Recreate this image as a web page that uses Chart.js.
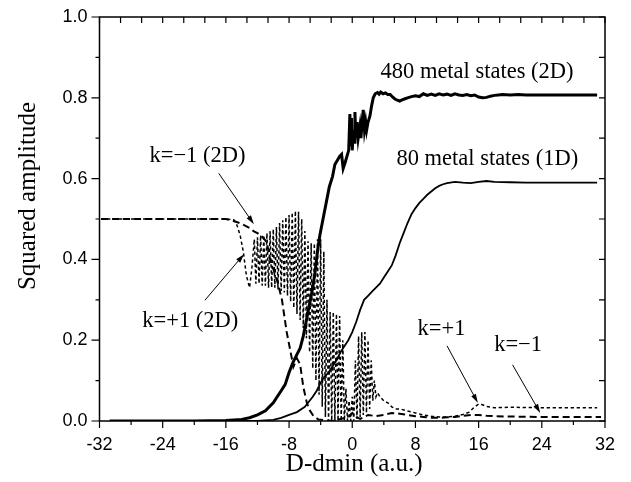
<!DOCTYPE html>
<html><head><meta charset="utf-8">
<script src="https://cdn.jsdelivr.net/npm/chart.js@4.4.1/dist/chart.umd.min.js"></script>
<style>html,body{margin:0;padding:0;background:#fff}#wrap{width:631px;height:482px}</style>
</head><body><div id="wrap"><canvas id="c" width="631" height="482"></canvas></div>
<script>
// ---- data ----
const xTickValues = [-32,-24,-16,-8,0,8,16,24,32];
const yTickValues = [0,0.2,0.4,0.6,0.8,1.0];

// 480 metal states (2D) – thick solid
const s2dX = [-30.7,-24,-20,-16,-14,-13,-12,-11,-10,-9.5,-9,-8.5,-8,-7.5,-7,-6.6,-6.2,-5.8,-5.4,-5,-4.7,-4.4,-4.1,-3.7,-3.3,-2.9,-2.5,-2.2,-1.9,-1.6,-1.35,-1.15,-0.9,-0.6,-0.45,-0.3,-0.2,-0.1,0.0,0.13,0.25,0.34,0.45,0.6,0.75,0.97,1.1,1.25,1.39,1.55,1.7,1.82,2.0,2.24,2.45,2.66,2.9,3.2,3.4,3.6,3.9,4.2,4.5,4.8,5.1,5.4,5.7,6.0,6.3,6.6,7.0,7.5,8.0,8.5,9.0,9.5,10,10.5,11,11.5,12,12.5,13,13.5,14,14.5,15,15.5,16,16.5,17,17.5,18,18.5,19,20,21,22,23,24,26,28,30,31];
const s2dY = [0,0,0,0.001,0.004,0.008,0.015,0.025,0.045,0.06,0.075,0.09,0.12,0.145,0.165,0.18,0.21,0.25,0.29,0.33,0.37,0.42,0.46,0.50,0.54,0.58,0.605,0.635,0.645,0.655,0.66,0.625,0.64,0.66,0.67,0.76,0.68,0.75,0.67,0.72,0.69,0.765,0.70,0.74,0.70,0.73,0.70,0.74,0.77,0.72,0.74,0.72,0.74,0.755,0.78,0.80,0.81,0.813,0.809,0.814,0.81,0.812,0.808,0.808,0.802,0.797,0.794,0.792,0.795,0.797,0.80,0.803,0.805,0.803,0.81,0.806,0.809,0.806,0.81,0.807,0.809,0.806,0.81,0.807,0.806,0.808,0.805,0.807,0.802,0.80,0.801,0.804,0.806,0.807,0.808,0.807,0.808,0.807,0.807,0.807,0.807,0.807,0.807,0.807];

// 80 metal states (1D) – thin solid
const s1dX = [-30.7,-20,-14,-12,-10,-9,-8,-7,-6,-5.4,-5,-4.5,-4,-3.5,-3,-2.5,-2,-1.5,-1,-0.5,0,0.5,1,1.5,2,2.5,3,3.5,4,4.5,5,5.5,6,6.5,7,7.5,8,8.5,9,9.5,10,10.5,11,11.5,12,13,14,15,16,17,18,20,22,24,26,28,31];
const s1dY = [0,0,0,0,0.003,0.008,0.015,0.022,0.035,0.05,0.06,0.075,0.095,0.11,0.12,0.135,0.15,0.17,0.185,0.2,0.22,0.245,0.275,0.30,0.31,0.32,0.33,0.34,0.355,0.37,0.385,0.41,0.44,0.465,0.49,0.512,0.527,0.54,0.55,0.56,0.568,0.576,0.582,0.586,0.589,0.592,0.59,0.589,0.592,0.594,0.592,0.591,0.59,0.59,0.59,0.59,0.59];

// k = -1 (2D) – long dashes
const kmX = [-31.8,-20,-16,-15,-14,-13,-12.5,-12,-11.5,-11,-10.8,-10.4,-9.9,-9.4,-8.9,-8.3,-7.7,-7.45,-7.0,-6.6,-6.2,-5.75,-5.4,-4.9,-4.3,-3.5,-2.5,-1.5,-0.5,0,0.5,1,1.5,2,3,4,5,6,7,8,9,10,11,12,13,14,15,16,17,18,20,24,28,31.5];
const kmY = [0.5,0.5,0.5,0.495,0.488,0.478,0.47,0.465,0.458,0.447,0.44,0.40,0.37,0.34,0.30,0.22,0.16,0.134,0.155,0.14,0.085,0.045,0.027,0.012,0.004,0.002,0.0,0.005,0.01,0.02,0.01,0.005,0.01,0.015,0.012,0.015,0.02,0.018,0.015,0.012,0.01,0.008,0.008,0.009,0.01,0.013,0.015,0.015,0.013,0.012,0.011,0.01,0.01,0.01];

// k = +1 (2D) – short dashes
const kpX = [-31.8,-20,-16,-15,-14.6,-14.2,-13.8,-13.4,-13.0,-12.7,
  -12.4,-12.2,-12.0,-11.8,-11.6,-11.4,-11.2,-11.0,-10.8,-10.6,-10.4,-10.2,-10.0,-9.8,-9.6,-9.4,-9.2,-9.0,-8.8,-8.6,
  -8.4,-8.2,-8.0,-7.8,-7.6,-7.4,-7.2,-7.0,-6.8,-6.6,-6.4,-6.2,-6.0,-5.8,-5.6,-5.4,-5.2,-5.0,-4.8,-4.6,
  -4.4,-4.2,-4.0,-3.8,-3.6,-3.4,-3.2,-3.0,-2.8,-2.6,-2.4,-2.2,-2.0,-1.8,-1.6,-1.4,-1.2,-1.0,-0.8,-0.6,
  -0.4,-0.2,0.0,0.2,0.4,0.6,0.8,1.0,1.2,1.4,1.6,1.8,2.0,2.2,2.4,2.6,2.8,3.0,3.2,
  3.5,4,4.5,5,5.5,6,7,8,9,10,11,12,13,14,14.8,15.5,16,16.5,17,18,20,24,28,31];
const kpY = [0.5,0.5,0.5,0.498,0.485,0.46,0.42,0.36,0.33,0.38,
  0.45,0.34,0.455,0.34,0.46,0.335,0.46,0.335,0.465,0.33,0.47,0.33,0.475,0.33,0.48,0.325,0.49,0.322,0.497,0.318,
  0.505,0.31,0.51,0.295,0.516,0.28,0.52,0.265,0.518,0.25,0.50,0.23,0.47,0.205,0.445,0.17,0.44,0.13,0.44,0.10,
  0.45,0.065,0.45,0.035,0.42,0.01,0.30,0.0,0.27,0.0,0.27,0.0,0.265,0.0,0.26,0.0,0.2,0.0,0.08,0.0,
  0.05,0.0,0.06,0.0,0.15,0.005,0.21,0.01,0.22,0.015,0.22,0.02,0.2,0.03,0.15,0.05,0.1,0.06,0.07,
  0.06,0.05,0.045,0.035,0.03,0.03,0.025,0.02,0.015,0.012,0.01,0.01,0.012,0.016,0.022,0.035,0.042,0.04,0.036,0.033,0.034,0.033,0.033,0.033];

// annotation texts
const labelTexts = ['480 metal states (2D)','80 metal states (1D)','k=\u22121 (2D)','k=+1 (2D)','k=+1','k=\u22121'];

// ---- presentation ----
const labelAt = [[15.8,0.848],[17.1,0.633],[-19.6,0.641],[-20.5,0.2325],[11.3,0.213],[21.0,0.173]];
const arrowFrom = [[-16.9,0.613],[-18.65,0.299],[12.0,0.186],[20.3,0.139]];
const arrowTo = [[-12.45,0.487],[-13.7,0.413],[15.9,0.045],[23.8,0.02]];

function pts(xs, ys){ return xs.map((x,i)=>({x:x, y:ys[i]})); }

const decorPlugin = {
  id:'decor',
  afterDraw(chart){
    const ctx = chart.ctx, a = chart.chartArea, sx = chart.scales.x, sy = chart.scales.y;
    ctx.save();
    ctx.strokeStyle = '#000'; ctx.fillStyle = '#000';
    ctx.lineWidth = 1.5;
    ctx.strokeRect(a.left, a.top, a.right - a.left, a.bottom - a.top);
    ctx.lineWidth = 1.2;
    ctx.beginPath();
    for (let v = -32; v <= 32; v += 4) {
      const p = sx.getPixelForValue(v), len = (v % 8 === 0) ? 7 : 4;
      ctx.moveTo(p, a.bottom); ctx.lineTo(p, a.bottom + len);
    }
    for (let i = 0; i <= 24; i++) {
      const p = sx.getPixelForValue(-32 + i * 64 / 24);
      ctx.moveTo(p, a.top); ctx.lineTo(p, a.top + 6);
    }
    for (let i = 0; i <= 10; i++) {
      const p = sy.getPixelForValue(i / 10), len = (i % 2 === 0) ? 8 : 4;
      ctx.moveTo(a.left, p); ctx.lineTo(a.left - len, p);
      ctx.moveTo(a.right, p); ctx.lineTo(a.right - 6, p);
    }
    ctx.stroke();
    ctx.font = '25px "Liberation Serif", "Times New Roman", serif';
    ctx.textAlign = 'center'; ctx.textBaseline = 'alphabetic';
    ctx.fillText('D-dmin (a.u.)', (a.left + a.right) / 2 + 2, 471);
    ctx.save();
    ctx.translate(35, 196); ctx.rotate(-Math.PI / 2);
    ctx.fillText('Squared amplitude', 0, 0);
    ctx.restore();
    ctx.font = '22.5px "Liberation Serif", "Times New Roman", serif';
    labelTexts.forEach((t, i) => {
      ctx.fillText(t, sx.getPixelForValue(labelAt[i][0]), sy.getPixelForValue(labelAt[i][1]));
    });
    ctx.lineWidth = 1;
    arrowFrom.forEach((f, i) => {
      const x1 = sx.getPixelForValue(f[0]), y1 = sy.getPixelForValue(f[1]);
      const x2 = sx.getPixelForValue(arrowTo[i][0]), y2 = sy.getPixelForValue(arrowTo[i][1]);
      const ang = Math.atan2(y2 - y1, x2 - x1), L = 9, W = 2.6;
      ctx.beginPath(); ctx.moveTo(x1, y1);
      ctx.lineTo(x2 - Math.cos(ang) * L * 0.8, y2 - Math.sin(ang) * L * 0.8); ctx.stroke();
      ctx.beginPath();
      ctx.moveTo(x2, y2);
      ctx.lineTo(x2 - Math.cos(ang) * L - Math.sin(ang) * W, y2 - Math.sin(ang) * L + Math.cos(ang) * W);
      ctx.lineTo(x2 - Math.cos(ang) * L + Math.sin(ang) * W, y2 - Math.sin(ang) * L - Math.cos(ang) * W);
      ctx.closePath(); ctx.fill();
    });
    ctx.restore();
  }
};

new Chart(document.getElementById('c'), {
  type: 'line',
  data: {
    datasets: [
      { label: '480 metal states (2D)', data: pts(s2dX, s2dY), borderColor: '#000', borderWidth: 3, pointRadius: 0, tension: 0 },
      { label: '80 metal states (1D)', data: pts(s1dX, s1dY), borderColor: '#000', borderWidth: 1.8, pointRadius: 0, tension: 0 },
      { label: 'k=-1 (2D)', data: pts(kmX, kmY), borderColor: '#000', borderWidth: 2, borderDash: [7, 4], pointRadius: 0, tension: 0 },
      { label: 'k=+1 (2D)', data: pts(kpX, kpY), borderColor: '#000', borderWidth: 1.5, borderDash: [3.3, 2.7], pointRadius: 0, tension: 0 }
    ]
  },
  options: {
    responsive: false, animation: false, devicePixelRatio: 1,
    layout: { padding: { top: 17, right: 26, left: 0, bottom: 0 } },
    plugins: { legend: { display: false }, tooltip: { enabled: false } },
    scales: {
      x: {
        type: 'linear', min: -32, max: 32,
        afterFit: s => { s.height = 61; s.paddingLeft = 0; s.paddingRight = 0; },
        afterBuildTicks: s => { s.ticks = xTickValues.map(v => ({ value: v })); },
        grid: { display: false, drawTicks: false }, border: { display: false },
        ticks: { color: '#000', padding: 13, maxRotation: 0, autoSkip: false,
          font: { family: '"Liberation Sans", Arial, sans-serif', size: 18 },
          callback: v => String(v) }
      },
      y: {
        type: 'linear', min: 0, max: 1,
        afterFit: s => { s.width = 99.5; s.paddingTop = 0; s.paddingBottom = 0; },
        afterBuildTicks: s => { s.ticks = yTickValues.map(v => ({ value: v })); },
        grid: { display: false, drawTicks: false }, border: { display: false },
        ticks: { color: '#000', padding: 12, autoSkip: false,
          font: { family: '"Liberation Sans", Arial, sans-serif', size: 18 },
          callback: v => Number(v).toFixed(1) }
      }
    }
  },
  plugins: [decorPlugin]
});
</script>
</body></html>
